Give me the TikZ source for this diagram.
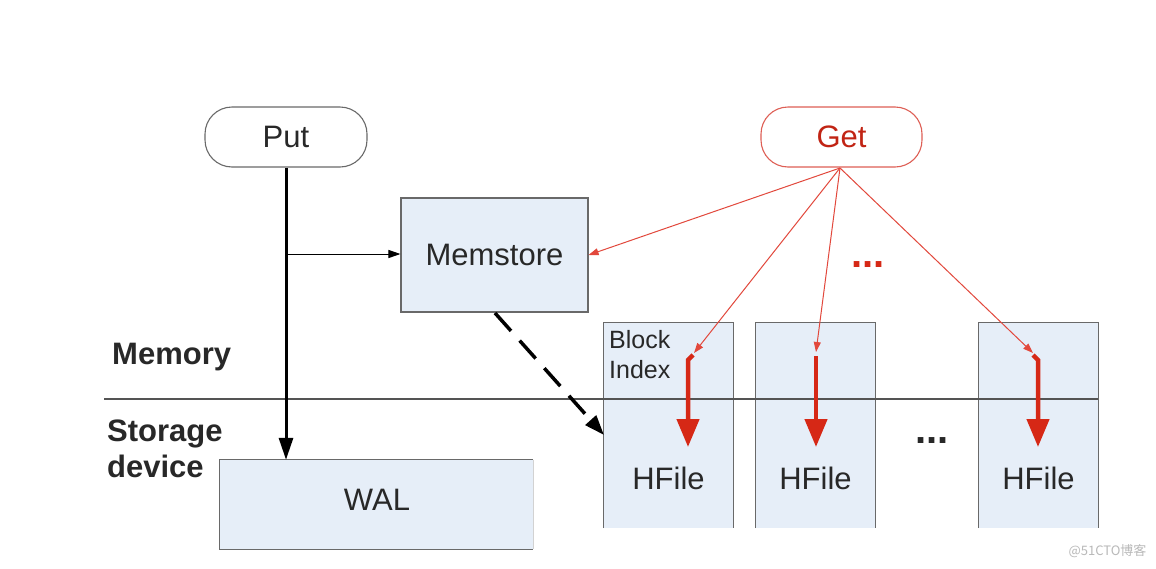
\documentclass[tikz,border=0pt]{standalone}
\usepackage{fontspec}
\setmainfont{Liberation Sans}
\newfontfamily\cjk{Noto Sans CJK SC}
\usetikzlibrary{arrows.meta}
\definecolor{boxfill}{RGB}{230,238,248}
\definecolor{boxline}{RGB}{105,105,105}
\definecolor{txt}{RGB}{40,40,40}
\definecolor{redthick}{RGB}{214,40,22}
\definecolor{redthin}{RGB}{226,72,60}
\definecolor{getline}{RGB}{222,95,85}
\definecolor{wm}{RGB}{185,185,185}
\tikzset{
  bigtext/.style={font=\fontsize{31}{36}\selectfont, text=txt},
  optbox/.style={draw=boxline, line width=1.1pt, rounded corners=27pt, fill=white, inner sep=0pt, bigtext},
  bluebox/.style={fill=boxfill, inner sep=0pt},
  boxedge/.style={draw=boxline, line width=1.1pt},
  thinred/.style={draw=redthin, line width=1pt, -{Triangle[length=10pt,width=7pt]}},
  thickred/.style={draw=redthick, line width=4.5pt, -{Triangle[length=28pt,width=22pt]}},
  layerlabel/.style={font=\bfseries\fontsize{31}{36}\selectfont, text=txt, anchor=west, inner sep=0pt},
}
\begin{document}
\begin{tikzpicture}[x=1pt,y=-1pt]
\useasboundingbox (0,0) rectangle (1156,568);
\fill[white] (0,0) rectangle (1156,568);

% operation nodes
\node[optbox, minimum width=162pt, minimum height=60pt] (put) at (286,137) {Put};
\node[optbox, draw=getline, text=redthick!90!black, minimum width=161pt, minimum height=60pt] (get) at (841.5,137) {Get};

% memstore
\node[bluebox, boxedge, minimum width=187pt, minimum height=114pt, bigtext] (mem) at (494.5,255) {Memstore};

% WAL
\node[bluebox, minimum width=313pt, minimum height=89pt] (wal) at (376.5,504.5) {};
\draw[boxedge] (wal.north east) -- (wal.north west) -- (wal.south west) -- (wal.south east);
\draw[draw=boxline!30, line width=1pt] (wal.north east) -- (wal.south east);
\node[bigtext] (waltxt) at (377,500) {WAL};

% HFile boxes (open at the bottom)
\node[bluebox, minimum width=129pt, minimum height=205pt] (h1) at (668.5,425.5) {};
\node[bluebox, minimum width=119pt, minimum height=205pt] (h2) at (815.5,425.5) {};
\node[bluebox, minimum width=119pt, minimum height=205pt] (h3) at (1038.5,425.5) {};
\foreach \b in {h1,h2,h3}{
  \draw[boxedge] (\b.south west) -- (\b.north west) -- (\b.north east) -- (\b.south east);
}
\node[bigtext] (hf1) at (668.5,478) {HFile};
\node[bigtext] (hf2) at (815.5,478) {HFile};
\node[bigtext] (hf3) at (1038.5,478) {HFile};
\node[font=\fontsize{25}{30}\selectfont, text=txt, anchor=north west, align=left, inner sep=0pt] (bi) at (609,330) {Block\\Index};

% memory / storage divider
\coordinate (lineL) at (104,399);
\coordinate (lineR) at (1098,399);
\draw[draw=boxline!80!black, line width=1.2pt] (lineL) -- (lineR);
\node[layerlabel] (memlbl) at (112,357) {Memory};
\node[layerlabel, align=left, anchor=north west] (stolbl) at (107,420) {Storage\\device};

% Put flow
\draw[line width=3pt, -{Triangle[length=22pt,width=14pt]}] (put.south) -- (put.south |- wal.north);
\coordinate (branch) at (287,254);
\draw[line width=1pt, -{Triangle[length=12pt,width=8pt]}] (branch) -- (mem.west |- branch);

% flush (dashed)
\coordinate (fstart) at (495,313);
\coordinate (fend) at (604,435);
\draw[line width=3.5pt, dash pattern=on 24pt off 13pt, -{Triangle[length=20pt,width=14pt]}] (fstart) -- (fend);

% Get flow
\coordinate (g0) at (840,168);
\coordinate (t1) at (694,353);
\coordinate (t2) at (816,352);
\coordinate (t3) at (1033,353);
\draw[thinred] (g0) -- (mem.east);
\draw[thinred] (g0) -- (t1);
\draw[thinred] (g0) -- (t2);
\draw[thinred] (g0) -- (t3);

\coordinate (s1) at (693,355);
\coordinate (s2) at (816,356);
\coordinate (s3) at (1033,355);
\draw[thickred] (s1) -- (688,360) -- (688,447);
\draw[thickred] (s2) -- (816,447);
\draw[thickred] (s3) -- (1038,360) -- (1038,447);

% ellipses
\node[text=redthick, font=\bfseries\fontsize{40}{40}\selectfont, inner sep=0pt] (rdots) at (868,265) {...};
\node[text=txt, font=\bfseries\fontsize{40}{40}\selectfont, inner sep=0pt] (bdots) at (932,441) {...};

% watermark
\node[text=wm, font=\cjk\fontsize{13}{15}\selectfont, anchor=east] (wmk) at (1150,551) {@51CTO博客};
\end{tikzpicture}
\end{document}
